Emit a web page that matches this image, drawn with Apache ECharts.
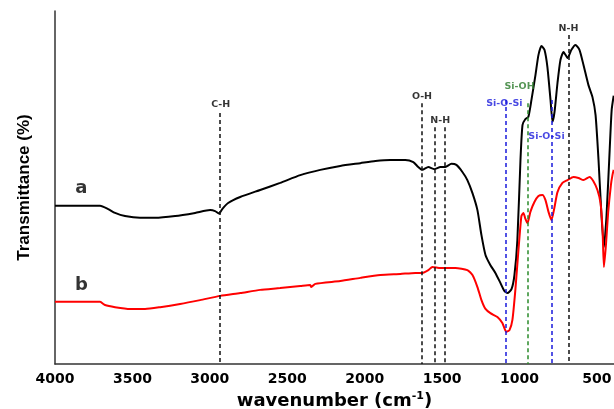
<!DOCTYPE html>
<html>
<head>
<meta charset="utf-8">
<script src="https://cdn.jsdelivr.net/npm/echarts@6/dist/echarts.min.js"></script>
<style>
  html, body { margin: 0; padding: 0; background: #fff; }
  #chart01 { width: 614px; height: 409px; }
</style>
</head>
<body>
<div id="chart01"></div>
<script>
// wavenumber (cm-1), transmittance (arbitrary %)
var spectrumA = [
  [4000, 44.8], [3851, 44.8], [3709, 44.8], [3657, 43.9], [3612, 42.8], [3548, 41.9],
  [3451, 41.4], [3354, 41.4], [3224, 41.9], [3095, 42.8], [2998, 43.6], [2966, 43.3],
  [2940, 42.6], [2920, 43.9], [2882, 45.6], [2804, 47.3], [2675, 49.3], [2546, 51.3],
  [2416, 53.5], [2287, 55.0], [2158, 56.1], [2028, 56.9], [1931, 57.5], [1835, 57.8],
  [1738, 57.8], [1686, 57.2], [1654, 55.8], [1628, 55.0], [1589, 55.8], [1550, 55.2],
  [1511, 55.8], [1479, 55.8], [1440, 56.7], [1408, 56.4], [1369, 54.4], [1337, 52.1],
  [1304, 48.4], [1272, 43.6], [1246, 36.5], [1220, 30.9], [1188, 28.0], [1156, 25.8],
  [1123, 22.9], [1098, 20.7], [1078, 20.1], [1052, 21.2], [1033, 25.2], [1014, 35.1],
  [994, 57.8], [981, 67.7], [962, 69.4], [943, 70.0], [923, 74.8], [897, 81.9],
  [878, 87.5], [858, 90.1], [839, 89.0], [820, 84.1], [800, 74.8], [787, 68.6],
  [774, 71.4], [755, 79.6], [736, 86.1], [716, 88.4], [690, 86.7], [665, 89.0],
  [639, 90.4], [613, 89.0], [587, 84.7], [555, 79.0], [529, 75.6], [509, 70.5],
  [490, 57.8], [471, 42.2], [455, 33.1], [438, 42.2], [418, 60.6], [405, 72.0],
  [392, 76.0]
];

var spectrumB = [
  [4000, 17.6], [3838, 17.6], [3709, 17.6], [3677, 16.7], [3612, 16.1], [3515, 15.6],
  [3418, 15.6], [3321, 16.1], [3192, 17.0], [3063, 18.1], [2933, 19.3], [2804, 20.1],
  [2675, 21.0], [2546, 21.5], [2416, 22.1], [2352, 22.4], [2345, 21.8], [2319, 22.7],
  [2158, 23.5], [2028, 24.4], [1899, 25.2], [1770, 25.5], [1673, 25.8], [1628, 25.8],
  [1589, 26.6], [1563, 27.5], [1511, 27.2], [1414, 27.2], [1337, 26.6], [1304, 25.2],
  [1272, 21.8], [1246, 18.1], [1220, 15.6], [1188, 14.4], [1143, 13.3], [1111, 11.6],
  [1085, 9.1], [1065, 9.6], [1046, 12.5], [1027, 21.0], [1007, 32.3], [988, 41.9],
  [975, 42.8], [962, 41.1], [949, 39.9], [930, 43.1], [904, 45.9], [878, 47.6],
  [852, 47.9], [833, 46.5], [813, 43.1], [794, 40.8], [774, 44.5], [755, 48.7],
  [723, 51.3], [690, 52.1], [652, 53.0], [619, 52.7], [587, 52.1], [548, 53.0],
  [523, 51.8], [497, 49.3], [477, 45.6], [464, 38.0], [455, 27.5], [442, 33.7],
  [428, 42.8], [410, 50.7], [400, 53.5], [392, 55.0]
];

var xTicks = [4000, 3500, 3000, 2500, 2000, 1500, 1000, 500];

// band assignments: position, top of dashed line, colour
var bandPos   = [2935, 1630, 1550, 1480, 1090, 945, 795, 685];
var bandTop   = [71.1, 73.9, 67.1, 67.1, 74.8, 73.9, 74.8, 93.2];
var bandColor = ['#111', '#111', '#111', '#111', '#1a1adc', '#2a8a2a', '#1a1adc', '#111'];

// annotation texts
var bandNames  = ['C-H', 'O-H', 'N-H', 'Si-O-Si', 'Si-OH', 'Si-O-Si', 'N-H'];
var bandLabelX = [2930, 1630, 1512, 1098, 1000, 826, 684];
var bandLabelY = [73.4, 75.9, 69.1, 73.9, 78.5, 64.3, 94.9];
var bandLabelC = ['#000', '#000', '#000', '#1a1adc', '#2a7a2a', '#1a1adc', '#000'];

var curveNames = ['a', 'b'];
var curveLabelPos = [[3830, 49.9], [3830, 22.4]];

var chart01Dom = document.getElementById('chart01');
var chart01 = echarts.init(chart01Dom, null, { renderer: 'canvas' });

var markData = bandPos.map(function (v, i) {
  return [
    { coord: [v, bandTop[i]], lineStyle: { color: bandColor[i] } },
    { coord: [v, 0] }
  ];
});

var labelData = bandNames.map(function (n, i) {
  return {
    name: n,
    value: [bandLabelX[i], bandLabelY[i]],
    label: { color: bandLabelC[i] }
  };
});

var curveLabelData = curveNames.map(function (n, i) {
  return { name: n, value: curveLabelPos[i] };
});

var option_c01 = {
  animation: false,
  backgroundColor: '#fff',
  grid: { left: 55, right: 0, top: 11, bottom: 45, outerBoundsMode: 'none' },
  xAxis: {
    type: 'value',
    inverse: true,
    min: 390,
    max: 4000,
    name: 'wavenumber (cm{sup|-1})',
    nameLocation: 'middle',
    nameGap: 26,
    nameTextStyle: {
      fontFamily: 'DejaVu Sans',
      fontWeight: 'bold',
      fontSize: 18,
      color: '#000',
      rich: {
        sup: { fontFamily: 'DejaVu Sans', fontWeight: 'bold', fontSize: 11, color: '#000', padding: [0, 0, 10, 0] }
      }
    },
    axisLine: { lineStyle: { color: '#333', width: 1.5 } },
    axisTick: { show: false },
    splitLine: { show: false },
    axisLabel: {
      customValues: xTicks,
      formatter: function (v) { return String(v); },
      margin: 8,
      fontFamily: 'DejaVu Sans',
      fontWeight: 'bold',
      fontSize: 14,
      color: '#000'
    }
  },
  yAxis: {
    type: 'value',
    min: 0,
    max: 100,
    name: 'Transmittance (%)',
    nameLocation: 'middle',
    nameGap: 22,
    nameTextStyle: {
      fontFamily: 'Liberation Sans',
      fontWeight: 'bold',
      fontSize: 17,
      color: '#000'
    },
    axisLine: { show: true, lineStyle: { color: '#333', width: 1.5 } },
    axisTick: { show: false },
    axisLabel: { show: false },
    splitLine: { show: false }
  },
  series: [
    {
      name: 'a',
      type: 'line',
      data: spectrumA,
      showSymbol: false,
      smooth: 0.2,
      lineStyle: { color: '#000', width: 2 },
      z: 3,
      markLine: {
        silent: true,
        symbol: 'none',
        label: { show: false },
        lineStyle: { type: [4, 3], width: 1.5 },
        data: markData
      }
    },
    {
      name: 'b',
      type: 'line',
      data: spectrumB,
      showSymbol: false,
      smooth: 0.2,
      lineStyle: { color: '#ff0000', width: 2 },
      z: 3
    },
    {
      name: 'bands',
      type: 'scatter',
      symbolSize: 0,
      data: labelData,
      z: 5,
      label: {
        show: true,
        position: 'inside',
        formatter: '{b}',
        fontFamily: 'DejaVu Sans',
        fontWeight: 'bold',
        fontSize: 9.5,
        textBorderWidth: 0
      }
    },
    {
      name: 'curves',
      type: 'scatter',
      symbolSize: 0,
      data: curveLabelData,
      z: 5,
      label: {
        show: true,
        position: 'inside',
        formatter: '{b}',
        fontFamily: 'DejaVu Sans',
        fontWeight: 'bold',
        fontSize: 18,
        color: '#000',
        textBorderWidth: 0
      }
    }
  ]
};

chart01.setOption(option_c01);
</script>
</body>
</html>
